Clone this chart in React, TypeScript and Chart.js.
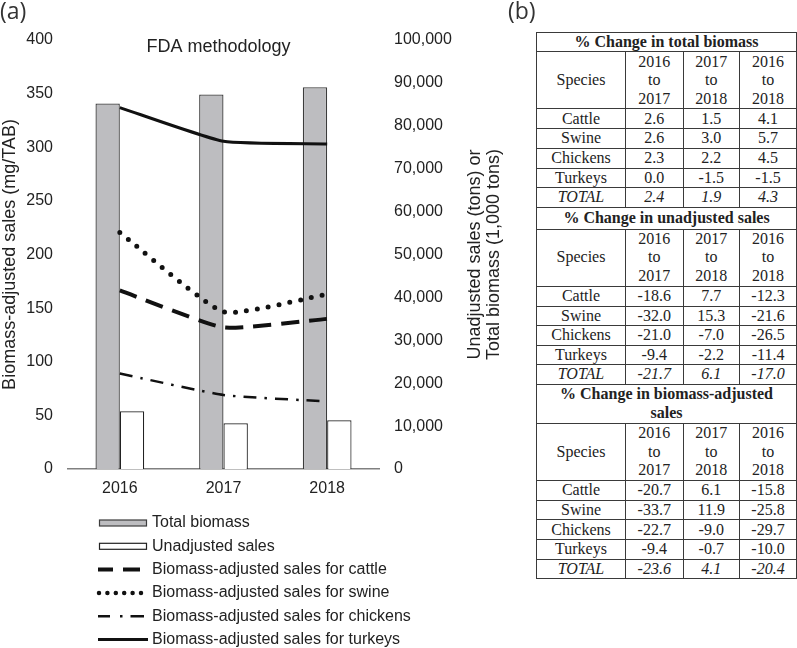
import React, { useEffect, useRef } from 'react';
import { Chart, registerables } from 'chart.js';

Chart.register(...registerables);

// ---------- Chart data ----------
const YEARS = ['2016', '2017', '2018'];
const TOTAL_BIOMASS = [85200, 87300, 89000]; // 1,000 tons (right axis)
const UNADJUSTED_SALES = [13450, 10650, 11350]; // tons (right axis)
const CATTLE = [166.5, 132, 140]; // mg/TAB (left axis)
const SWINE = [220.5, 146.5, 163];
const CHICKENS = [89, 69, 63];
const TURKEYS = [337, 305.5, 303];

const LEFT_MAX = 400;
const LEFT_STEP = 50;
const RIGHT_MAX = 100000;
const RIGHT_STEP = 10000;

const CHART_TITLE = 'FDA methodology';
const LEFT_TITLE = 'Biomass-adjusted sales (mg/TAB)';
const RIGHT_TITLE = ['Unadjusted sales (tons) or', 'Total biomass (1,000 tons)'];

const LEGEND_LABELS = [
  'Total biomass',
  'Unadjusted sales',
  'Biomass-adjusted sales for cattle',
  'Biomass-adjusted sales for swine',
  'Biomass-adjusted sales for chickens',
  'Biomass-adjusted sales for turkeys',
];

// ---------- Table data ----------
const SPECIES = ['Cattle', 'Swine', 'Chickens', 'Turkeys'];
const PERIODS = [
  ['2016', 'to', '2017'],
  ['2017', 'to', '2018'],
  ['2016', 'to', '2018'],
];
const SECTION_TITLES = [
  ['% Change in total biomass'],
  ['% Change in unadjusted sales'],
  ['% Change in biomass-adjusted', 'sales'],
];
const BIOMASS_CHANGE = [
  [2.6, 1.5, 4.1],
  [2.6, 3.0, 5.7],
  [2.3, 2.2, 4.5],
  [0.0, -1.5, -1.5],
];
const BIOMASS_TOTAL = [2.4, 1.9, 4.3];
const UNADJ_CHANGE = [
  [-18.6, 7.7, -12.3],
  [-32.0, 15.3, -21.6],
  [-21.0, -7.0, -26.5],
  [-9.4, -2.2, -11.4],
];
const UNADJ_TOTAL = [-21.7, 6.1, -17.0];
const ADJ_CHANGE = [
  [-20.7, 6.1, -15.8],
  [-33.7, 11.9, -25.8],
  [-22.7, -9.0, -29.7],
  [-9.4, -0.7, -10.0],
];
const ADJ_TOTAL = [-23.6, 4.1, -20.4];

const SECTIONS = [
  { title: SECTION_TITLES[0], rows: BIOMASS_CHANGE, total: BIOMASS_TOTAL },
  { title: SECTION_TITLES[1], rows: UNADJ_CHANGE, total: UNADJ_TOTAL },
  { title: SECTION_TITLES[2], rows: ADJ_CHANGE, total: ADJ_TOTAL },
];

const SANS = '"Liberation Sans", Arial, sans-serif';
const SERIF = '"Liberation Serif", "Times New Roman", serif';
const TEXT = '#222';

const CANVAS_W = 520;
const CANVAS_H = 648;

const decorPlugin = {
  id: 'decor',
  afterDraw(chart: any) {
    const { ctx, chartArea } = chart;
    const { left, right, top, bottom } = chartArea;
    const midY = (top + bottom) / 2;
    ctx.save();
    ctx.fillStyle = TEXT;

    // title inside plot area
    ctx.font = `18px ${SANS}`;
    ctx.textAlign = 'center';
    ctx.textBaseline = 'middle';
    ctx.fillText(CHART_TITLE, (left + right) / 2 - 5, top + 7);

    // left axis title
    ctx.save();
    ctx.translate(15, midY);
    ctx.rotate(-Math.PI / 2);
    ctx.textBaseline = 'alphabetic';
    ctx.fillText(LEFT_TITLE, 0, 0);
    ctx.restore();

    // right axis title (two lines, reading bottom to top)
    RIGHT_TITLE.forEach((line, i) => {
      ctx.save();
      ctx.translate(right + 101 + i * 19, midY);
      ctx.rotate(-Math.PI / 2);
      ctx.textBaseline = 'alphabetic';
      ctx.fillText(line, 0, 0);
      ctx.restore();
    });

    // legend
    const x0 = left + 30;
    const x1 = left + 80;
    const tx = left + 84;
    const y0 = bottom + 54;
    const step = 23.3;
    chart.data.datasets.forEach((ds: any, i: number) => {
      const y = y0 + i * step;
      ctx.save();
      if (ds.type === 'bar') {
        ctx.fillStyle = ds.backgroundColor;
        ctx.strokeStyle = ds.borderColor;
        ctx.lineWidth = 1.2;
        ctx.fillRect(x0 + 1.5, y - 3, x1 - x0 - 3, 6);
        ctx.strokeRect(x0 + 1.5, y - 3, x1 - x0 - 3, 6);
      } else {
        ctx.strokeStyle = ds.borderColor;
        ctx.lineWidth = ds.legendWidth || ds.borderWidth;
        ctx.lineCap = ds.borderCapStyle || 'butt';
        ctx.setLineDash(ds.legendDash || []);
        ctx.beginPath();
        ctx.moveTo(x0 + (ds.legendStart || 0), y);
        ctx.lineTo(x1 + (ds.legendEnd || 0), y);
        ctx.stroke();
      }
      ctx.restore();
      ctx.fillStyle = TEXT;
      ctx.font = `16px ${SANS}`;
      ctx.textAlign = 'left';
      ctx.textBaseline = 'middle';
      ctx.fillText(LEGEND_LABELS[i], tx, y);
    });
    ctx.restore();
  },
};

function ChartPanel() {
  const ref = useRef<HTMLCanvasElement | null>(null);
  useEffect(() => {
    if (!ref.current) return;
    const chart = new Chart(ref.current, {
      type: 'bar',
      data: {
        labels: YEARS,
        datasets: [
          {
            type: 'bar',
            label: LEGEND_LABELS[0],
            data: TOTAL_BIOMASS,
            yAxisID: 'y2',
            backgroundColor: '#bdbdc0',
            borderColor: '#3c3c3c',
            borderWidth: 1.3,
            categoryPercentage: 0.47,
            barPercentage: 1.0,
            order: 2,
          },
          {
            type: 'bar',
            label: LEGEND_LABELS[1],
            data: UNADJUSTED_SALES,
            yAxisID: 'y2',
            backgroundColor: '#ffffff',
            borderColor: '#222222',
            borderWidth: 1.2,
            categoryPercentage: 0.47,
            barPercentage: 1.0,
            order: 2,
          },
          {
            type: 'line',
            label: LEGEND_LABELS[2],
            data: CATTLE,
            yAxisID: 'y',
            borderColor: '#111',
            borderWidth: 4,
            borderDash: [18, 10],
            legendDash: [15, 10, 17, 20],
            legendEnd: -5,
            pointRadius: 0,
            tension: 0.15,
            order: 1,
          },
          {
            type: 'line',
            label: LEGEND_LABELS[3],
            data: SWINE,
            yAxisID: 'y',
            borderColor: '#111',
            borderWidth: 5,
            borderDash: [0, 11],
            borderCapStyle: 'round',
            legendWidth: 4.5,
            legendDash: [0, 8.4],
            legendStart: 1,
            legendEnd: -5,
            pointRadius: 0,
            tension: 0.15,
            order: 1,
          },
          {
            type: 'line',
            label: LEGEND_LABELS[4],
            data: CHICKENS,
            yAxisID: 'y',
            borderColor: '#111',
            borderWidth: 2.5,
            borderDash: [13, 8, 2.5, 8],
            legendDash: [12, 10, 2.5, 8, 14, 20],
            legendEnd: -4,
            pointRadius: 0,
            tension: 0.15,
            order: 1,
          },
          {
            type: 'line',
            label: LEGEND_LABELS[5],
            data: TURKEYS,
            yAxisID: 'y',
            borderColor: '#111',
            borderWidth: 3,
            legendDash: [],
            pointRadius: 0,
            tension: 0.15,
            order: 1,
          },
        ] as any,
      },
      options: {
        responsive: false,
        animation: false,
        devicePixelRatio: 1,
        layout: { padding: { top: 40, left: 0, right: 0, bottom: 0 } },
        plugins: {
          legend: { display: false },
          tooltip: { enabled: false },
          title: { display: false },
        },
        scales: {
          x: {
            type: 'category',
            offset: true,
            grid: { display: false, drawTicks: false },
            border: { display: true, color: '#808080', width: 1.6 },
            ticks: { padding: 10, color: TEXT, font: { family: SANS, size: 16 } },
            afterFit: (s: any) => {
              s.height = 179;
            },
          },
          y: {
            type: 'linear',
            position: 'left',
            min: 0,
            max: LEFT_MAX,
            grid: { display: false, drawTicks: false },
            border: { display: false },
            ticks: {
              stepSize: LEFT_STEP,
              padding: 15,
              color: TEXT,
              font: { family: SANS, size: 16 },
            },
            afterFit: (s: any) => {
              s.width = 68;
            },
          },
          y2: {
            type: 'linear',
            position: 'right',
            min: 0,
            max: RIGHT_MAX,
            grid: { display: false, drawTicks: false },
            border: { display: false },
            ticks: {
              stepSize: RIGHT_STEP,
              padding: 15,
              color: TEXT,
              font: { family: SANS, size: 16 },
              callback: (v: any) => Number(v).toLocaleString('en-US'),
            },
            afterFit: (s: any) => {
              s.width = CANVAS_W - 379;
            },
          },
        },
      } as any,
      plugins: [decorPlugin],
    });
    return () => chart.destroy();
  }, []);
  return (
    <canvas
      ref={ref}
      width={CANVAS_W}
      height={CANVAS_H}
      style={{ position: 'absolute', left: 0, top: 0, width: CANVAS_W, height: CANVAS_H }}
    />
  );
}

const cellBorder = '1px solid #3a3a3a';
const fmt = (v: number) => v.toFixed(1);

function ChangeTable() {
  const td: React.CSSProperties = {
    border: cellBorder,
    padding: 0,
    textAlign: 'center',
    verticalAlign: 'middle',
    height: 19,
    boxSizing: 'border-box',
  };
  const titleH = [19, 22, 39];
  return (
    <table
      style={{
        position: 'absolute',
        left: 536,
        top: 32,
        width: 260,
        borderCollapse: 'collapse',
        tableLayout: 'fixed',
        fontFamily: SERIF,
        fontSize: 16,
        lineHeight: '18.4px',
        color: TEXT,
      }}
    >
      <colgroup>
        <col style={{ width: 89 }} />
        <col style={{ width: 57.5 }} />
        <col style={{ width: 56.5 }} />
        <col style={{ width: 57 }} />
      </colgroup>
      <tbody>
        {SECTIONS.map((sec, si) => (
          <React.Fragment key={si}>
            <tr>
              <td colSpan={4} style={{ ...td, fontWeight: 'bold', height: titleH[si] }}>
                {sec.title.map((t, k) => (
                  <React.Fragment key={k}>
                    {k > 0 && <br />}
                    {t}
                  </React.Fragment>
                ))}
              </td>
            </tr>
            <tr>
              <td style={{ ...td, height: 57 }}>Species</td>
              {PERIODS.map((p, pi) => (
                <td key={pi} style={{ ...td, height: 57 }}>
                  {p[0]}
                  <br />
                  {p[1]}
                  <br />
                  {p[2]}
                </td>
              ))}
            </tr>
            {sec.rows.map((row, ri) => {
              const rowTd = { ...td, height: ri % 2 === 0 ? 20 : 19 };
              return (
                <tr key={ri}>
                  <td style={rowTd}>{SPECIES[ri]}</td>
                  {row.map((v, ci) => (
                    <td key={ci} style={rowTd}>
                      {fmt(v)}
                    </td>
                  ))}
                </tr>
              );
            })}
            <tr>
              <td style={{ ...td, fontStyle: 'italic' }}>TOTAL</td>
              {sec.total.map((v, ci) => (
                <td key={ci} style={{ ...td, fontStyle: 'italic' }}>
                  {fmt(v)}
                </td>
              ))}
            </tr>
          </React.Fragment>
        ))}
      </tbody>
    </table>
  );
}

export default function App() {
  const panelLabel: React.CSSProperties = {
    position: 'absolute',
    top: -3,
    fontFamily: '"Open Sans", "Noto Sans", sans-serif',
    fontWeight: 400,
    fontSize: 23,
    lineHeight: '27px',
    color: '#333',
  };
  return (
    <div style={{ position: 'absolute', left: 0, top: 0, width: 797, height: 648, background: '#fff', overflow: 'hidden' }}>
      <ChartPanel />
      <div style={{ ...panelLabel, left: 0 }}>(a)</div>
      <div style={{ ...panelLabel, left: 508 }}>(b)</div>
      <ChangeTable />
    </div>
  );
}
